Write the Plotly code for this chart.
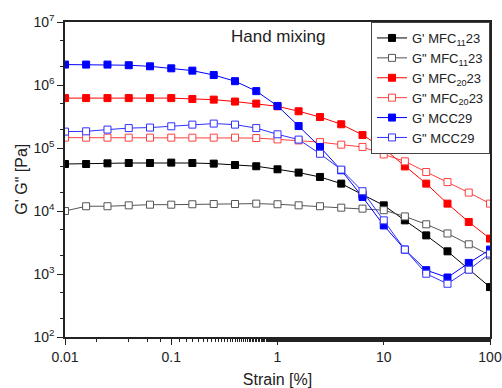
import plotly.graph_objects as go

strain = [0.01, 0.0158, 0.0251, 0.0398, 0.0631, 0.1, 0.158, 0.251, 0.398, 0.631,
          1, 1.58, 2.51, 3.98, 6.31, 10, 15.8, 25.1, 39.8, 63.1, 100]

gp_mfc11 = [5.57e4, 5.57e4, 5.71e4, 5.78e4, 5.78e4, 5.86e4, 5.78e4, 5.65e4, 5.37e4, 5.13e4,
            4.59e4, 4.07e4, 3.47e4, 2.72e4, 1.82e4, 1.23e4, 7.1e3, 4.1e3, 2.29e3, 1.19e3, 6.2e2]
gpp_mfc11 = [1.0e4, 1.19e4, 1.19e4, 1.23e4, 1.26e4, 1.26e4, 1.28e4, 1.29e4, 1.29e4, 1.31e4,
             1.28e4, 1.23e4, 1.19e4, 1.13e4, 1.09e4, 1.03e4, 8.2e3, 6.15e3, 4.4e3, 2.96e3, 1.98e3]
gp_mfc20 = [6.2e5, 6.2e5, 6.2e5, 6.2e5, 6.2e5, 6.2e5, 6.0e5, 5.86e5, 5.46e5, 5.07e5,
            4.59e5, 3.83e5, 3.1e5, 2.38e5, 1.61e5, 9.8e4, 5.1e4, 2.72e4, 1.31e4, 6.7e3, 3.65e3]
gpp_mfc20 = [1.46e5, 1.46e5, 1.46e5, 1.46e5, 1.46e5, 1.46e5, 1.46e5, 1.46e5, 1.46e5, 1.44e5,
             1.37e5, 1.32e5, 1.24e5, 1.13e5, 1.04e5, 7.9e4, 6.15e4, 4.16e4, 2.88e4, 1.96e4, 1.31e4]
gp_mcc29 = [2.11e6, 2.11e6, 2.11e6, 2.06e6, 1.98e6, 1.84e6, 1.69e6, 1.44e6, 1.15e6, 8.0e5,
            4.65e5, 2.23e5, 1.04e5, 4.43e4, 1.67e4, 5.9e3, 2.44e3, 1.15e3, 8.8e2, 1.5e3, 2.44e3]
gpp_mcc29 = [1.82e5, 1.84e5, 1.96e5, 2.07e5, 2.11e5, 2.21e5, 2.35e5, 2.44e5, 2.35e5, 2.07e5,
             1.65e5, 1.36e5, 8.1e4, 4.54e4, 2.06e4, 7.1e3, 2.44e3, 1.01e3, 7.0e2, 1.17e3, 2.11e3]

series = [
    ("G' MFC<sub>11</sub>23", gp_mfc11, "#000000", True),
    ('G" MFC<sub>11</sub>23', gpp_mfc11, "#555555", False),
    ("G' MFC<sub>20</sub>23", gp_mfc20, "#ff0000", True),
    ('G" MFC<sub>20</sub>23', gpp_mfc20, "#ff4040", False),
    ("G' MCC29", gp_mcc29, "#0000ff", True),
    ('G" MCC29', gpp_mcc29, "#3030ff", False),
]

fig = go.Figure()
for name, vals, col, filled in series:
    fig.add_trace(go.Scatter(
        x=strain, y=vals, name=name, mode="lines+markers",
        line=dict(color=col, width=1),
        marker=dict(symbol="square", size=7,
                    color=col if filled else "white",
                    line=dict(color=col, width=1)),
    ))

ytv = [1e2, 1e3, 1e4, 1e5, 1e6, 1e7]
ytt = ["10<sup>%d</sup>" % e for e in range(2, 8)]
xtv = [0.01, 0.1, 1, 10, 100]
xtt = ["0.01", "0.1", "1", "10", "100"]

fig.update_layout(
    width=502, height=388,
    margin=dict(l=65, r=12, t=22, b=51),
    paper_bgcolor="white", plot_bgcolor="white",
    font=dict(family="Liberation Sans, Arial", size=14, color="#222"),
    showlegend=True,
    legend=dict(x=1, xanchor="right", y=1.0, yanchor="top",
                bordercolor="#444", borderwidth=1, bgcolor="white",
                font=dict(size=13), tracegroupgap=0, itemwidth=30),
    xaxis=dict(type="log", range=[-2, 2], tickvals=xtv, ticktext=xtt,
               ticks="outside", ticklen=6, tickcolor="#222", showgrid=False,
               showline=True, linecolor="#222", linewidth=1.5, mirror=True,
               tickfont=dict(size=14), automargin=False, ticklabeloverflow="allow",
               minor=dict(ticks="outside", ticklen=3, tickcolor="#222", showgrid=False),
               title=dict(text="Strain [%]", standoff=14, font=dict(size=16)), zeroline=False),
    yaxis=dict(type="log", range=[2, 7], tickvals=ytv, ticktext=ytt,
               ticks="outside", ticklen=6, tickcolor="#222", showgrid=False,
               showline=True, linecolor="#222", linewidth=1.5, mirror=True,
               tickfont=dict(size=14), automargin=False, ticklabeloverflow="allow",
               minor=dict(ticks="outside", ticklen=3, tickcolor="#222", showgrid=False),
               zeroline=False),
    annotations=[
        dict(text="Hand mixing", x=0.503, y=0.99, xref="paper", yref="paper",
             xanchor="center", yanchor="top", showarrow=False, font=dict(size=17)),
        dict(text='G\' G" [Pa]', x=-0.103, y=0.5, xref="paper", yref="paper",
             xanchor="center", yanchor="middle", textangle=-90, showarrow=False,
             font=dict(size=16)),
    ],
)

fig.write_html("out.html")
